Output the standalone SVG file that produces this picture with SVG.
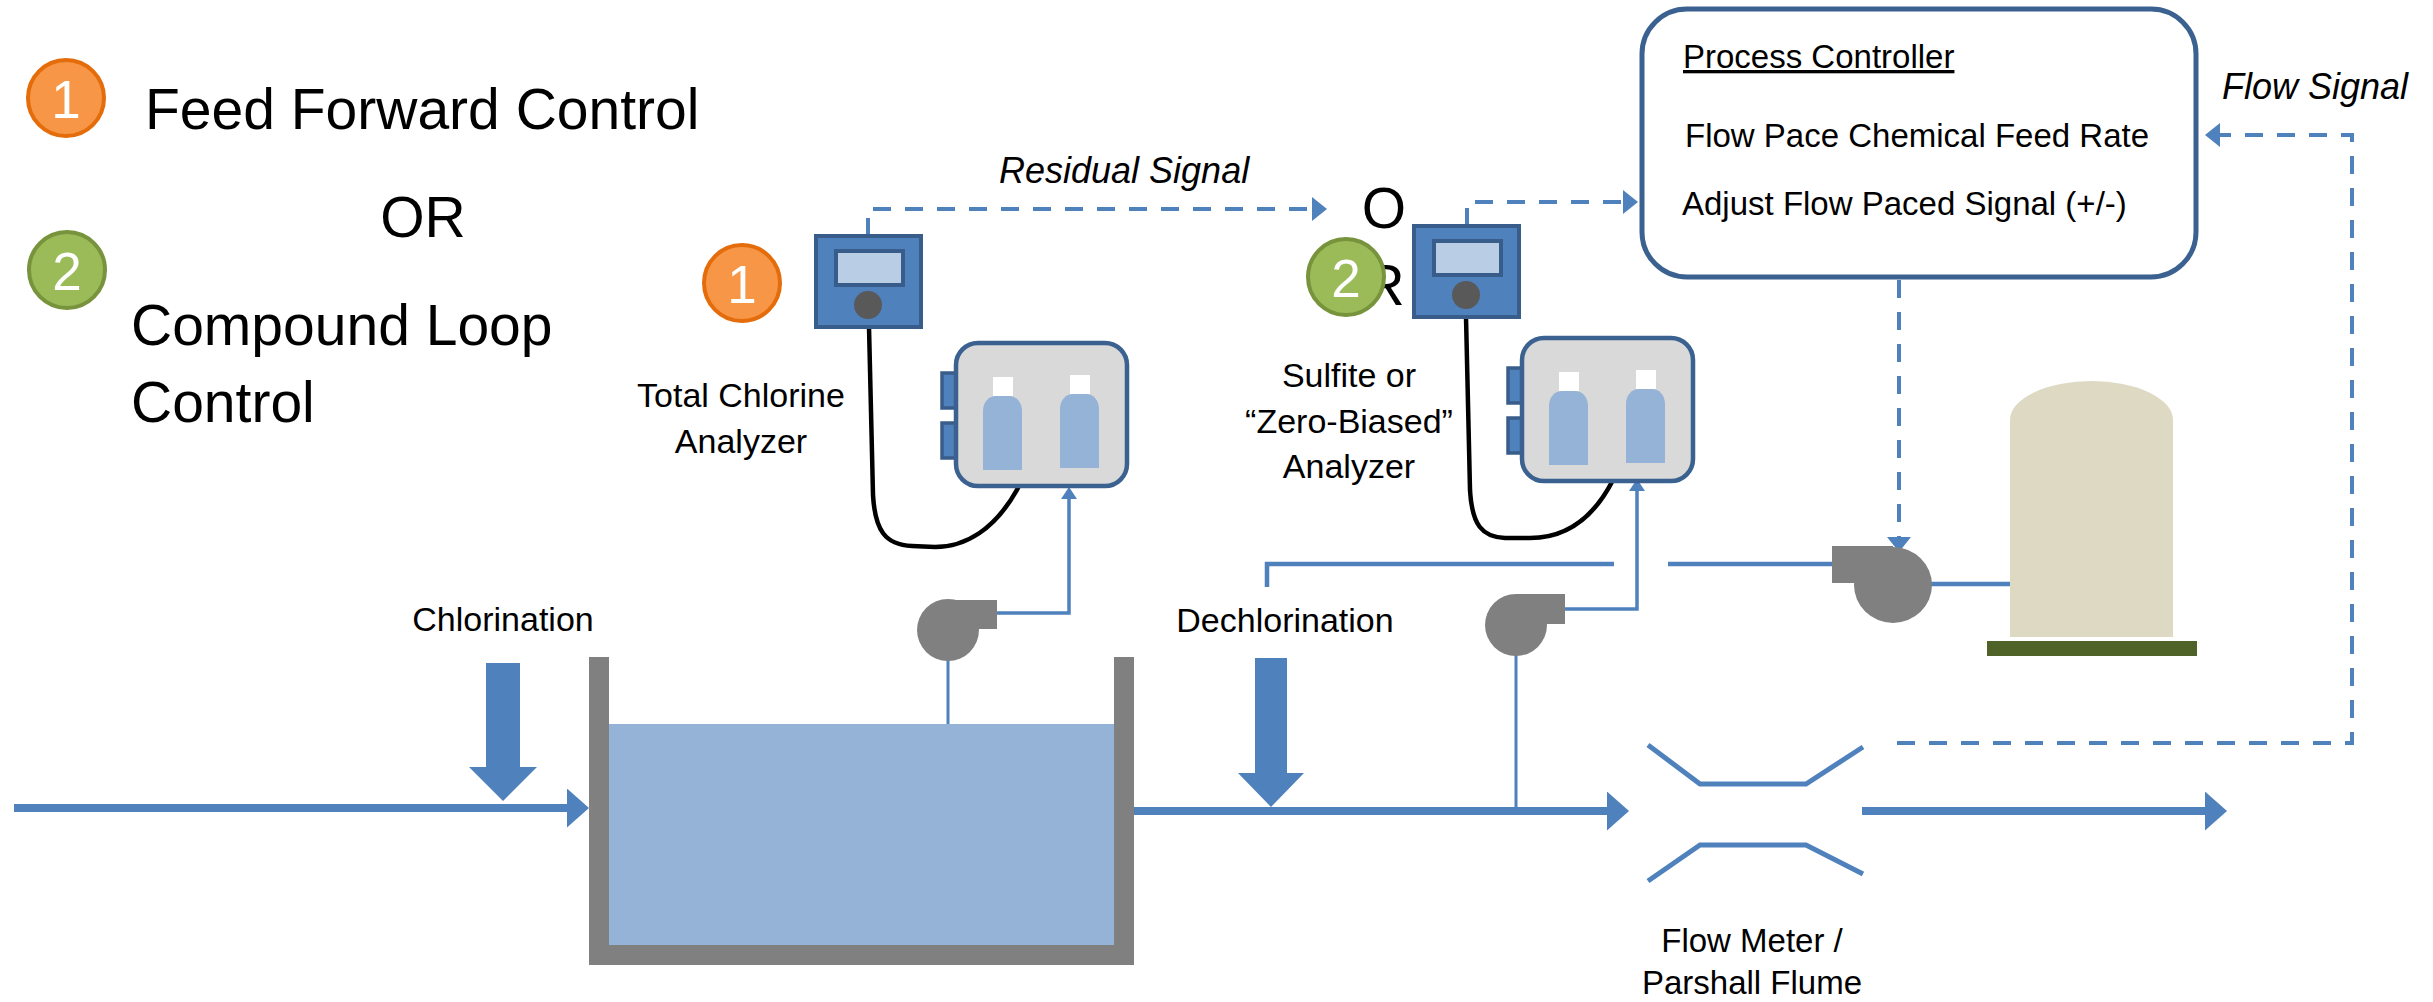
<svg xmlns="http://www.w3.org/2000/svg" xmlns:xlink="http://www.w3.org/1999/xlink" width="2433" height="1002" viewBox="0 0 2433 1002">
  <style>
    .txt { font-family: "Liberation Sans", Arial, sans-serif; fill: #000; }
    .big { font-size: 57px; }
    .lbl { font-size: 34px; }
    .ctl { font-size: 33px; }
    .sig { font-size: 36px; font-style: italic; }
    .num { font-family: "Liberation Sans", Arial, sans-serif; font-size: 53px; fill: #fff; text-anchor: middle; }
    .pipe { fill: none; stroke: #4F81BD; stroke-width: 8; }
    .feed { fill: none; stroke: #4F81BD; stroke-width: 4.5; }
    .sample { fill: none; stroke: #4F81BD; stroke-width: 3.5; }
    .probe { fill: none; stroke: #4F81BD; stroke-width: 3; }
    .dash { fill: none; stroke: #4F81BD; stroke-width: 4; stroke-dasharray: 18 14; }
    .cable { fill: none; stroke: #000; stroke-width: 4.5; stroke-linecap: round; stroke-linejoin: round; }
    .pumpbody { fill: #808080; }
    .orange circle { fill: #F79646; stroke: #E46C0A; stroke-width: 4; }
    .green circle { fill: #9BBB59; stroke: #77933C; stroke-width: 4; }
  </style>
  <defs>
    <marker id="sigArrow" markerUnits="userSpaceOnUse" markerWidth="15" markerHeight="24" refX="2" refY="12" orient="auto">
      <path d="M0,0 L15,12 L0,24 Z" fill="#4F81BD"/>
    </marker>
    <marker id="pipeArrow" markerUnits="userSpaceOnUse" markerWidth="22" markerHeight="39" refX="2" refY="19.5" orient="auto">
      <path d="M0,0 L22,19.5 L0,39 Z" fill="#4F81BD"/>
    </marker>
    <marker id="sampleArrow" markerUnits="userSpaceOnUse" markerWidth="12" markerHeight="16" refX="2" refY="8" orient="auto">
      <path d="M0,0 L12,8 L0,16 Z" fill="#4F81BD"/>
    </marker>
    <!-- transmitter: housing, display window and knob -->
    <g id="transmitter">
      <rect x="0" y="0" width="105" height="91" fill="#4F81BD" stroke="#385D8A" stroke-width="4"/>
      <rect x="20" y="15" width="67" height="34" fill="#B9CDE5" stroke="#385D8A" stroke-width="4"/>
      <circle cx="52" cy="69" r="14" fill="#595959"/>
    </g>
    <!-- reagent bottle -->
    <path id="bottle" d="M0,74 V15 C0,6 6,0 13,0 H26 C33,0 39,6 39,15 V74 Z" fill="#95B3D7"/>
    <!-- analyzer cabinet with two reagent bottles -->
    <g id="cabinet">
      <rect x="-14" y="30" width="16" height="35" fill="#4F81BD" stroke="#385D8A" stroke-width="3.5"/>
      <rect x="-14" y="80" width="16" height="35" fill="#4F81BD" stroke="#385D8A" stroke-width="3.5"/>
      <rect x="0" y="0" width="171" height="143" rx="22" fill="#D9D9D9" stroke="#3B6190" stroke-width="4.5"/>
      <rect x="37" y="34" width="20" height="19" fill="#fff"/>
      <use xlink:href="#bottle" x="27" y="53"/>
      <rect x="114" y="32" width="20" height="19" fill="#fff"/>
      <use xlink:href="#bottle" x="104" y="51"/>
    </g>
  </defs>

  <rect width="2433" height="1002" fill="#fff"/>

  <!-- legend -->
  <g id="legend">
    <g class="orange"><circle cx="66" cy="98" r="38"/><text class="num" x="66" y="118">1</text></g>
    <text class="txt big" x="145" y="129">Feed Forward Control</text>
    <text class="txt big" x="423" y="237" text-anchor="middle">OR</text>
    <g class="green"><circle cx="67" cy="270" r="38"/><text class="num" x="67" y="290">2</text></g>
    <text class="txt big" x="131" y="345">Compound Loop</text>
    <text class="txt big" x="131" y="422">Control</text>
  </g>

  <!-- wrapped "OR" partly behind the second badge -->
  <g id="or-note">
    <text class="txt big" text-anchor="middle"><tspan x="1384" y="228">O</tspan><tspan x="1384" y="305">R</tspan></text>
  </g>

  <!-- connectors: process piping, sample lines, cables and signals -->
  <g id="connectors">
    <path class="pipe" d="M14,808 H569" marker-end="url(#pipeArrow)"/>
    <path class="pipe" d="M1133,811 H1609" marker-end="url(#pipeArrow)"/>
    <path class="pipe" d="M1862,811 H2207" marker-end="url(#pipeArrow)"/>

    <path class="probe" d="M948,660 V811"/>
    <path class="probe" d="M1516,655 V807"/>

    <path class="sample" d="M996,613 H1069 V497" marker-end="url(#sampleArrow)"/>
    <path class="sample" d="M1564,609 H1637 V489" marker-end="url(#sampleArrow)"/>

    <path class="feed" d="M1267,587 V564 H1614"/>
    <path class="feed" d="M1668,564 H1834"/>
    <path class="feed" d="M1930,584 H2011"/>

    <path class="cable" d="M869,327 L873,495 C875,530 885,545 912,546 L935,547 C965,547 995,530 1018,488"/>
    <path class="cable" d="M1466,317 L1470,490 C1472,525 1482,537 1505,538 L1530,538 C1560,538 1590,525 1613,480"/>

    <path class="dash" d="M868,236 V209 H1314" marker-end="url(#sigArrow)"/>
    <path class="dash" d="M1467,226 V202 H1625" marker-end="url(#sigArrow)"/>
    <path class="dash" d="M1899,280 V539" marker-end="url(#sigArrow)"/>
    <path class="dash" d="M1897,743 H2352 V135 H2218" marker-end="url(#sigArrow)"/>
  </g>

  <!-- chemical dosing points -->
  <g id="chlorination">
    <polygon points="486,663 520,663 520,767 537,767 503,801 469,767 486,767" fill="#4F81BD"/>
    <text class="txt lbl" x="503" y="631" text-anchor="middle">Chlorination</text>
  </g>
  <g id="dechlorination">
    <polygon points="1255,658 1287,658 1287,773 1304,773 1271,807 1238,773 1255,773" fill="#4F81BD"/>
    <text class="txt lbl" x="1285" y="632" text-anchor="middle">Dechlorination</text>
  </g>

  <!-- contact tank -->
  <g id="contact-tank">
    <rect x="609" y="724" width="505" height="221" fill="#95B3D7"/>
    <path d="M589,657 H609 V945 H1114 V657 H1134 V965 H589 Z" fill="#808080"/>
  </g>

  <!-- sample pumps -->
  <g id="sample-pump-1" class="pumpbody">
    <rect x="948" y="600" width="49" height="29"/>
    <circle cx="948" cy="630" r="31"/>
  </g>
  <g id="sample-pump-2" class="pumpbody">
    <rect x="1516" y="594" width="49" height="30"/>
    <circle cx="1516" cy="625" r="31"/>
  </g>

  <!-- analyzer 1 -->
  <g id="analyzer-1">
    <use xlink:href="#transmitter" x="816" y="236"/>
    <use xlink:href="#cabinet" x="956" y="343"/>
    <text class="txt lbl" text-anchor="middle"><tspan x="741" y="407">Total Chlorine</tspan><tspan x="741" y="453">Analyzer</tspan></text>
  </g>
  <g id="badge-1" class="orange"><circle cx="742" cy="283" r="38"/><text class="num" x="742" y="303">1</text></g>

  <!-- analyzer 2 -->
  <g id="analyzer-2">
    <use xlink:href="#transmitter" x="1414" y="226"/>
    <use xlink:href="#cabinet" x="1522" y="338"/>
    <text class="txt lbl" text-anchor="middle"><tspan x="1349" y="387">Sulfite or</tspan><tspan x="1349" y="433">“Zero-Biased”</tspan><tspan x="1349" y="478">Analyzer</tspan></text>
  </g>
  <g id="badge-2" class="green"><circle cx="1346" cy="277" r="38"/><text class="num" x="1346" y="297">2</text></g>

  <!-- process controller -->
  <g id="process-controller">
    <rect x="1642" y="9" width="554" height="268" rx="45" fill="#fff" stroke="#3B6190" stroke-width="5"/>
    <text class="txt ctl" x="1683" y="68" text-decoration="underline">Process Controller</text>
    <text class="txt ctl" x="1685" y="147">Flow Pace Chemical Feed Rate</text>
    <text class="txt ctl" x="1682" y="215">Adjust Flow Paced Signal (+/-)</text>
  </g>

  <!-- chemical metering pump and storage tank -->
  <g id="metering-pump" class="pumpbody">
    <rect x="1832" y="546" width="61" height="37"/>
    <ellipse cx="1893" cy="585" rx="39" ry="38"/>
  </g>
  <g id="chemical-tank">
    <path d="M2010,637 V420 A81.5,39 0 0 1 2173,420 V637 Z" fill="#DDD9C3"/>
    <rect x="1987" y="641" width="210" height="15" fill="#4F6228"/>
  </g>

  <!-- flow meter / parshall flume -->
  <g id="flow-meter">
    <polyline points="1648,745 1700,784 1806,784 1863,747" fill="none" stroke="#4F81BD" stroke-width="5"/>
    <polyline points="1648,881 1700,845 1806,845 1863,874" fill="none" stroke="#4F81BD" stroke-width="5"/>
    <text class="txt ctl" text-anchor="middle"><tspan x="1752" y="952">Flow Meter /</tspan><tspan x="1752" y="994">Parshall Flume</tspan></text>
  </g>

  <!-- signal labels -->
  <g id="signal-labels">
    <text class="txt sig" x="999" y="183">Residual Signal</text>
    <text class="txt sig" x="2222" y="99">Flow Signal</text>
  </g>
</svg>
